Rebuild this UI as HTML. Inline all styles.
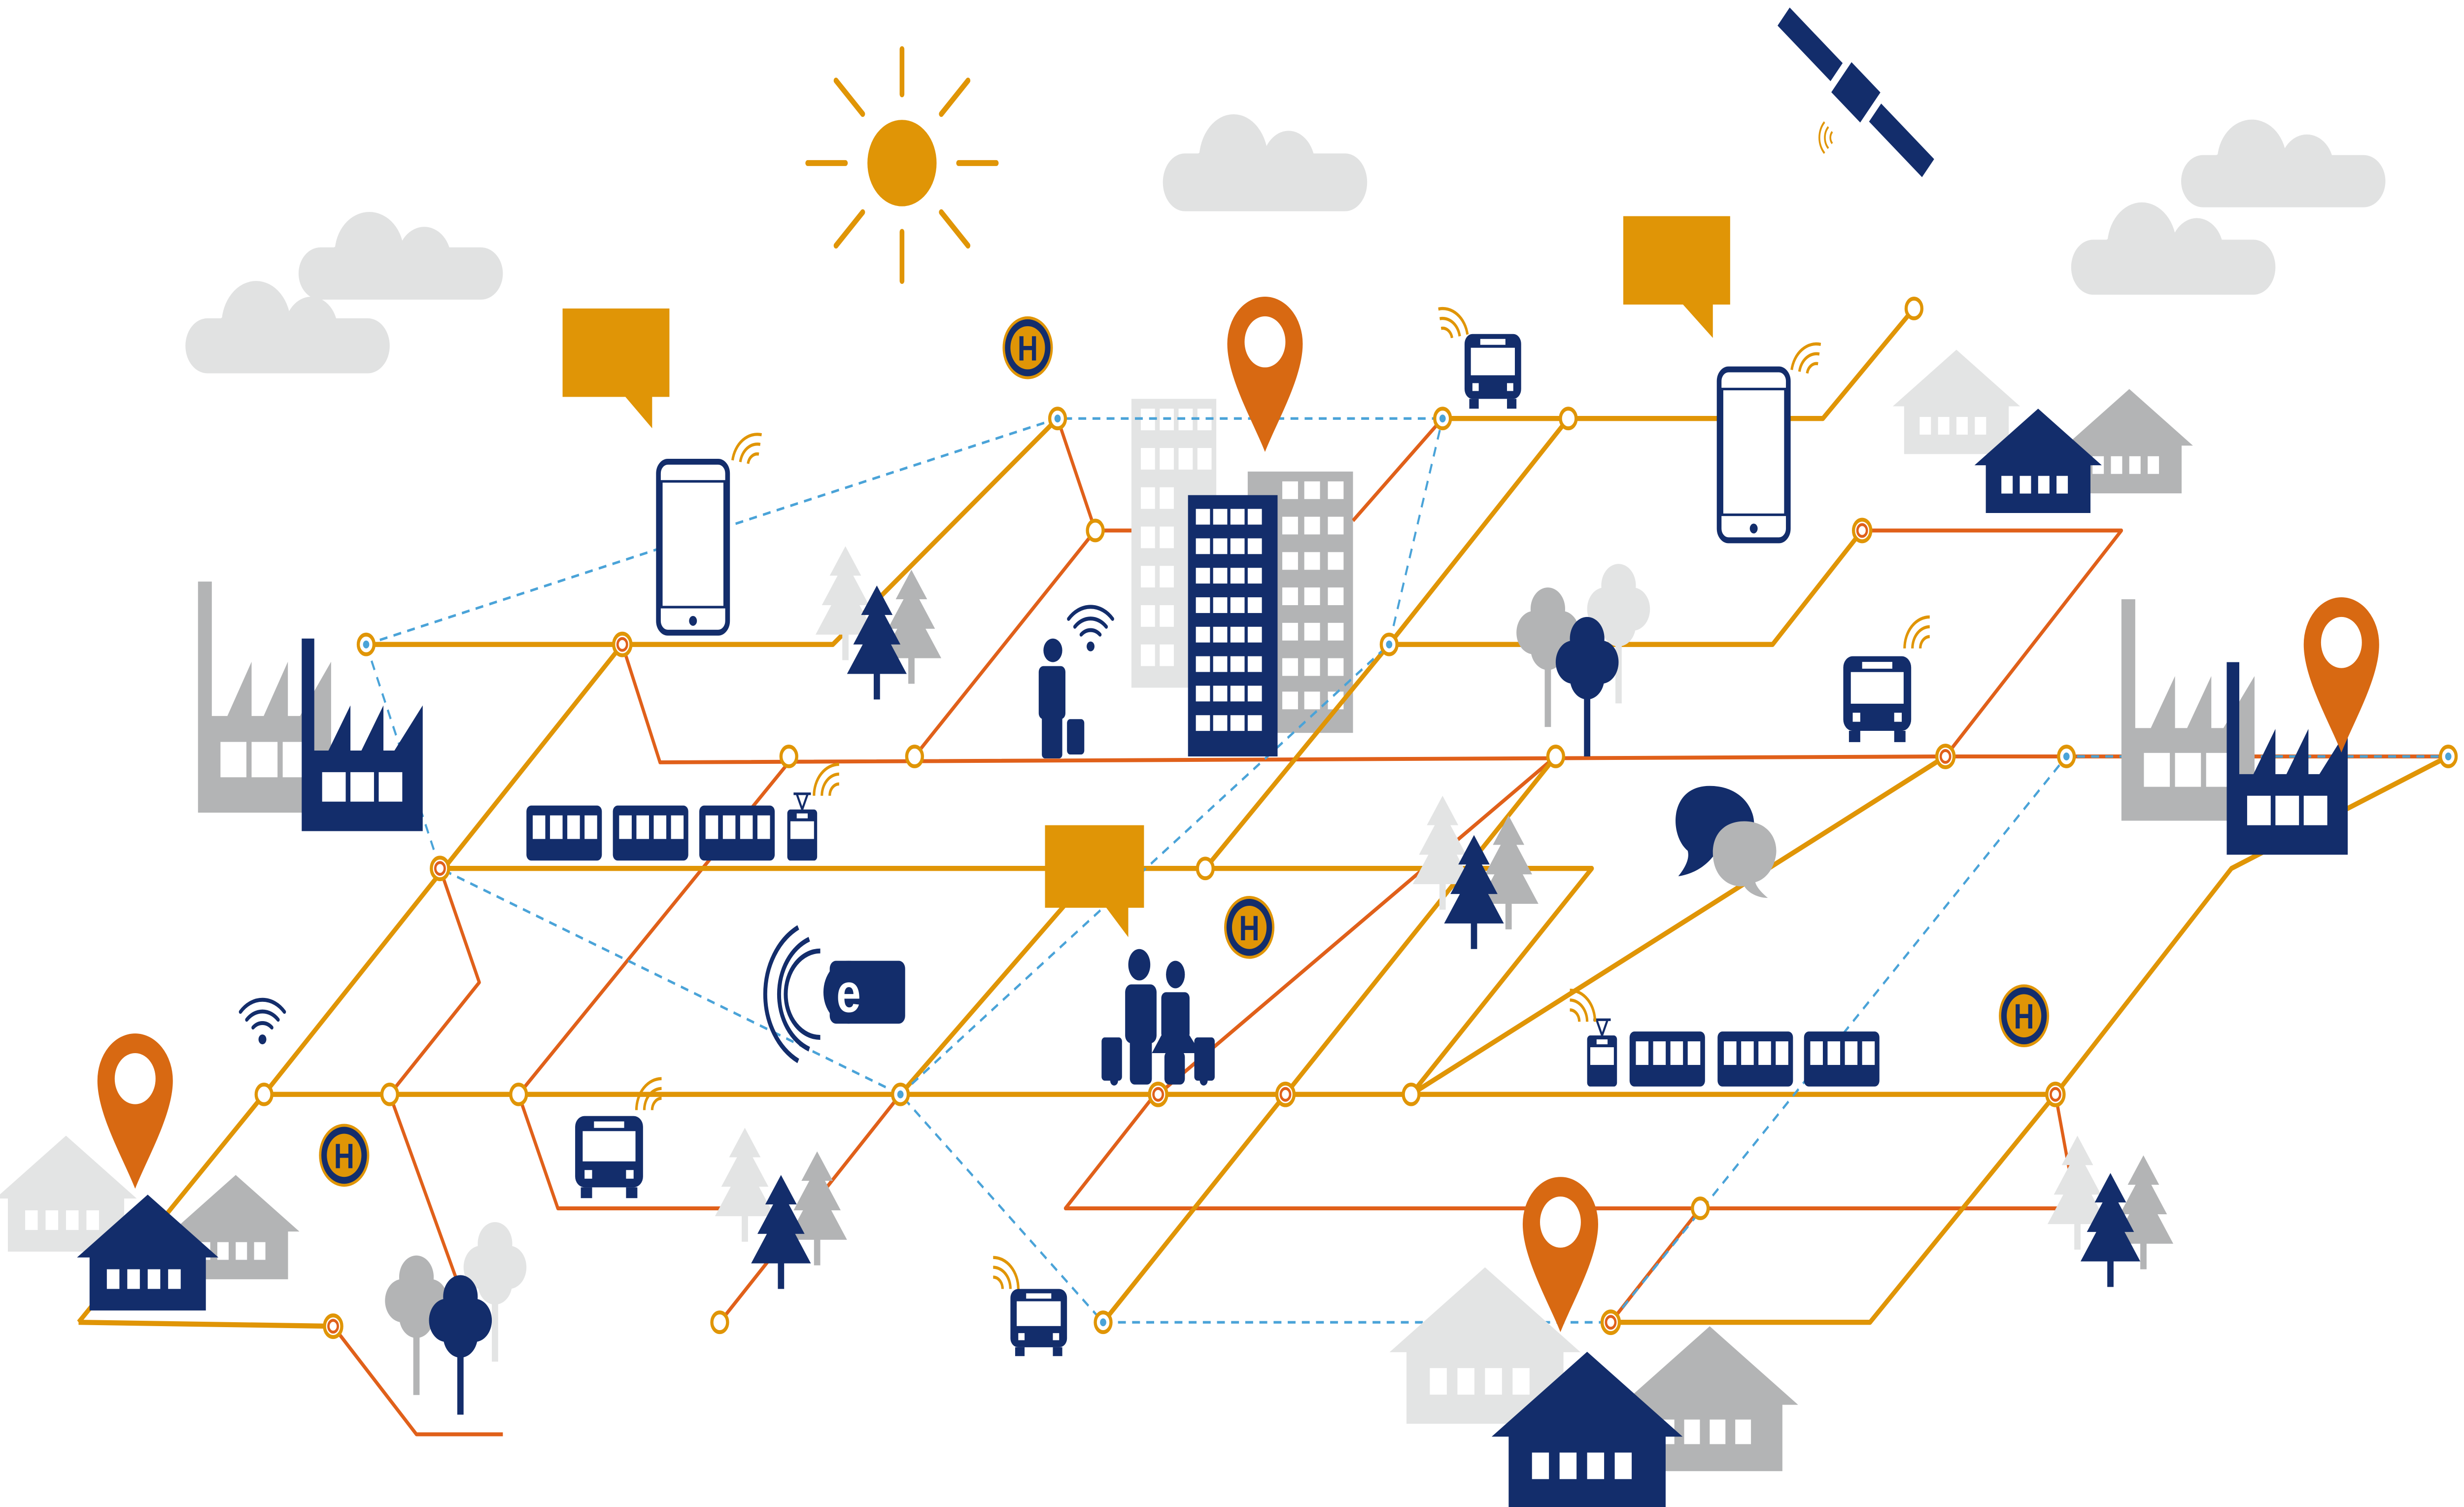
<!DOCTYPE html>
<html><head><meta charset="utf-8"><style>
html,body{margin:0;padding:0;background:#fff;width:100%;height:100%;overflow:hidden}
svg{display:block;width:100vw;height:100vh}
</style></head><body>
<svg viewBox="0 0 1568 767" preserveAspectRatio="none" xmlns="http://www.w3.org/2000/svg">
<defs>
<g id="fac"><path d="M0 0H8V57H17L31 34V57H38L52 34V57H59L77 34V98H0Z"/><g fill="#fff"><rect x="13" y="68" width="15" height="15"/><rect x="31" y="68" width="15" height="15"/><rect x="49" y="68" width="15" height="15"/></g></g>
<g id="house"><path d="M-45 32L0 0L45 32H37V59H-37V32Z"/><g fill="#fff"><rect x="-26" y="38" width="8" height="10"/><rect x="-13" y="38" width="8" height="10"/><rect x="0" y="38" width="8" height="10"/><rect x="13" y="38" width="8" height="10"/></g></g>
<g id="pin"><path d="M0 0C-8 -16 -24 -38 -24 -55A24 24 0 1 1 24 -55C24 -38 8 -16 0 0Z" fill="#d86912"/><circle cx="0" cy="-56" r="13" fill="#fff"/></g>
<path id="con" d="M0 0L-10 15H-5L-15 30H-9L-19 45H-2V58H2V45H19L9 30H15L5 15H10Z"/>
<g id="dec"><circle cx="0" cy="0" r="11"/><circle cx="-9" cy="12" r="11"/><circle cx="9" cy="12" r="11"/><circle cx="0" cy="20" r="11"/><rect x="-2" y="20" width="4" height="40"/></g>
<g id="bus"><rect x="0" y="0" width="36" height="33" rx="5" fill="#132d6b"/><rect x="4" y="7" width="28" height="14" fill="#fff"/><rect x="10" y="2.5" width="16" height="3" fill="#fff"/><rect x="5" y="25" width="4" height="4" fill="#fff"/><rect x="27" y="25" width="4" height="4" fill="#fff"/><rect x="3" y="33" width="6" height="5" fill="#132d6b"/><rect x="27" y="33" width="6" height="5" fill="#132d6b"/></g>
<g id="car"><rect x="0" y="0" width="48" height="28" rx="3" fill="#132d6b"/><g fill="#fff"><rect x="4" y="5" width="8" height="12"/><rect x="15" y="5" width="8" height="12"/><rect x="26" y="5" width="8" height="12"/><rect x="37" y="5" width="8" height="12"/></g></g>
<g id="tram"><rect x="0" y="6" width="19" height="26" rx="2" fill="#132d6b"/><rect x="2" y="12" width="15" height="9" fill="#fff"/><rect x="6" y="8" width="7" height="2.5" fill="#fff"/><path d="M9.5 6L6 -2M9.5 6L13 -2M4 -2H15" stroke="#132d6b" stroke-width="1.3" fill="none"/></g>
<g id="wifiO" fill="none" stroke="#e09506" stroke-width="1.6"><path d="M0 0A6 6 0 0 1 6 -6"/><path d="M-5 0A11 11 0 0 1 6 -11"/><path d="M-10 0A16 16 0 0 1 6 -16"/></g>
<g id="cloud"><rect x="0" y="22" width="130" height="28" rx="14"/><circle cx="45" cy="25" r="22"/><circle cx="80" cy="28" r="17"/><circle cx="30" cy="35" r="15"/></g>
<g id="H"><circle r="16" fill="#e09506"/><circle r="14.5" fill="#132d6b"/><circle r="11" fill="#e09506"/><text x="0" y="6.5" text-anchor="middle" font-family="Liberation Sans, sans-serif" font-weight="bold" font-size="18" fill="#132d6b">H</text></g>
<g id="node"><circle r="5" fill="#fff" stroke="#e09506" stroke-width="2"/></g>
<g id="nodeb"><circle r="5" fill="#fff" stroke="#e09506" stroke-width="2"/><circle r="2" fill="#4aa3d8"/></g>
<g id="noder"><circle r="5.5" fill="#fff" stroke="#e09506" stroke-width="2"/><circle r="3" fill="#fff" stroke="#e0601a" stroke-width="1.5"/></g>
</defs>

<g fill="#e1e2e2">
<use href="#cloud" transform="translate(118,140)"/>
<use href="#cloud" transform="translate(190,105) scale(1,0.95)"/>
<use href="#cloud" transform="translate(740,55) scale(1,1.05)"/>
<use href="#cloud" transform="translate(1388,58) scale(1,0.95)"/>
<use href="#cloud" transform="translate(1318,100)"/>
</g>

<g stroke="#e09506" stroke-width="3" stroke-linecap="round">
<line x1="574" y1="25" x2="574" y2="48"/><line x1="574" y1="118" x2="574" y2="143"/>
<line x1="514" y1="83" x2="538" y2="83"/><line x1="610" y1="83" x2="634" y2="83"/>
<line x1="532" y1="41" x2="549" y2="58"/><line x1="599" y1="108" x2="616" y2="125"/>
<line x1="616" y1="41" x2="599" y2="58"/><line x1="549" y1="108" x2="532" y2="125"/>
</g>
<circle cx="574" cy="83" r="22" fill="#e09506"/>

<g fill="#132d6b" transform="translate(1181,47) rotate(40)">
<rect x="-60" y="-6" width="44" height="12"/><rect x="16" y="-6" width="44" height="12"/><rect x="-12" y="-10" width="24" height="20"/></g>
<g transform="translate(1166,73) rotate(-45)"><use href="#wifiO" transform="scale(0.7)"/></g>

<rect x="720" y="203" width="54" height="147" fill="#e3e4e4"/>
<g fill="#fff"><rect x="726" y="208" width="9" height="11"/><rect x="738" y="208" width="9" height="11"/><rect x="750" y="208" width="9" height="11"/><rect x="762" y="208" width="9" height="11"/>
<rect x="726" y="228" width="9" height="11"/><rect x="738" y="228" width="9" height="11"/><rect x="750" y="228" width="9" height="11"/><rect x="762" y="228" width="9" height="11"/>
<rect x="726" y="248" width="9" height="11"/><rect x="738" y="248" width="9" height="11"/><rect x="726" y="268" width="9" height="11"/><rect x="738" y="268" width="9" height="11"/>
<rect x="726" y="288" width="9" height="11"/><rect x="738" y="288" width="9" height="11"/><rect x="726" y="308" width="9" height="11"/><rect x="738" y="308" width="9" height="11"/><rect x="726" y="328" width="9" height="11"/><rect x="738" y="328" width="9" height="11"/></g>
<rect x="794" y="240" width="67" height="133" fill="#b3b4b5"/>
<g fill="#fff">
<rect x="816" y="245" width="10" height="9"/><rect x="830" y="245" width="10" height="9"/><rect x="845" y="245" width="10" height="9"/>
<rect x="816" y="263" width="10" height="9"/><rect x="830" y="263" width="10" height="9"/><rect x="845" y="263" width="10" height="9"/>
<rect x="816" y="281" width="10" height="9"/><rect x="830" y="281" width="10" height="9"/><rect x="845" y="281" width="10" height="9"/>
<rect x="816" y="299" width="10" height="9"/><rect x="830" y="299" width="10" height="9"/><rect x="845" y="299" width="10" height="9"/>
<rect x="816" y="317" width="10" height="9"/><rect x="830" y="317" width="10" height="9"/><rect x="845" y="317" width="10" height="9"/>
<rect x="816" y="335" width="10" height="9"/><rect x="830" y="335" width="10" height="9"/><rect x="845" y="335" width="10" height="9"/>
<rect x="816" y="352" width="10" height="9"/><rect x="830" y="352" width="10" height="9"/><rect x="845" y="352" width="10" height="9"/></g>

<g fill="none" stroke="#e0601a" stroke-width="2" stroke-linejoin="round">
<polyline points="396,328 420,388 1238,385 1560,385"/>
<polyline points="582,385 697,270 673,213"/>
<line x1="697" y1="270" x2="720" y2="270"/>
<polyline points="1238,385 1350,270 1185,270"/>
<polyline points="280,442 305,500 248,557 290,650"/>
<polyline points="212,675 265,730 320,730"/>
<polyline points="505,385 330,557 355,615 460,615"/>
<polyline points="1308,557 1316,592 1322,615 678,615 735,557"/>
<line x1="458" y1="673" x2="573" y2="557"/>
<line x1="737" y1="557" x2="990" y2="385"/>
<line x1="1025" y1="673" x2="1082" y2="615"/>
<polyline points="861,265 918,213"/>
</g>
<g fill="none" stroke="#e09506" stroke-width="2.6" stroke-linejoin="round">
<polyline points="233,328 396,328 530,328 673,213"/>
<polyline points="918,213 998,213 1160,213 1218,157"/>
<polyline points="998,213 884,328 1128,328 1185,270"/>
<polyline points="884,328 767,442"/>
<polyline points="280,442 1013,442 898,557"/>
<polyline points="50,673 168,557 396,328"/>
<polyline points="168,557 1308,557 1420,442 1558,385"/>
<polyline points="1308,557 1190,673 1025,673"/>
<polyline points="573,557 700,440"/>
<polyline points="702,673 818,557 990,385"/>
<polyline points="898,557 1238,385"/>
<polyline points="50,673 212,675"/>
</g>
<g fill="none" stroke="#4aa3d8" stroke-width="1.3" stroke-dasharray="5 4">
<polyline points="233,328 673,213 918,213"/>
<polyline points="233,328 280,442 573,557 702,673 1025,673 1315,385 1558,385"/>
<polyline points="573,557 884,328 918,213"/>
</g>

<rect x="756" y="252" width="57" height="133" fill="#132d6b"/>
<g fill="#fff">
<rect x="761" y="259" width="9" height="8"/><rect x="772" y="259" width="9" height="8"/><rect x="783" y="259" width="9" height="8"/><rect x="794" y="259" width="9" height="8"/>
<rect x="761" y="274" width="9" height="8"/><rect x="772" y="274" width="9" height="8"/><rect x="783" y="274" width="9" height="8"/><rect x="794" y="274" width="9" height="8"/>
<rect x="761" y="289" width="9" height="8"/><rect x="772" y="289" width="9" height="8"/><rect x="783" y="289" width="9" height="8"/><rect x="794" y="289" width="9" height="8"/>
<rect x="761" y="304" width="9" height="8"/><rect x="772" y="304" width="9" height="8"/><rect x="783" y="304" width="9" height="8"/><rect x="794" y="304" width="9" height="8"/>
<rect x="761" y="319" width="9" height="8"/><rect x="772" y="319" width="9" height="8"/><rect x="783" y="319" width="9" height="8"/><rect x="794" y="319" width="9" height="8"/>
<rect x="761" y="334" width="9" height="8"/><rect x="772" y="334" width="9" height="8"/><rect x="783" y="334" width="9" height="8"/><rect x="794" y="334" width="9" height="8"/>
<rect x="761" y="349" width="9" height="8"/><rect x="772" y="349" width="9" height="8"/><rect x="783" y="349" width="9" height="8"/><rect x="794" y="349" width="9" height="8"/>
<rect x="761" y="364" width="9" height="8"/><rect x="772" y="364" width="9" height="8"/><rect x="783" y="364" width="9" height="8"/><rect x="794" y="364" width="9" height="8"/></g>

<use href="#nodeb" x="233" y="328"/><use href="#noder" x="396" y="328"/><use href="#nodeb" x="673" y="213"/>
<use href="#nodeb" x="918" y="213"/><use href="#node" x="998" y="213"/><use href="#node" x="1218" y="157"/>
<use href="#nodeb" x="884" y="328"/><use href="#noder" x="1185" y="270"/><use href="#node" x="697" y="270"/>
<use href="#node" x="502" y="385"/><use href="#node" x="582" y="385"/><use href="#node" x="990" y="385"/><use href="#noder" x="1238" y="385"/><use href="#nodeb" x="1315" y="385"/><use href="#nodeb" x="1558" y="385"/>
<use href="#noder" x="280" y="442"/><use href="#node" x="767" y="442"/>
<use href="#node" x="168" y="557"/><use href="#node" x="248" y="557"/><use href="#node" x="330" y="557"/><use href="#nodeb" x="573" y="557"/><use href="#noder" x="737" y="557"/><use href="#noder" x="818" y="557"/><use href="#node" x="898" y="557"/><use href="#noder" x="1308" y="557"/>
<use href="#node" x="1082" y="615"/><use href="#noder" x="212" y="675"/><use href="#node" x="458" y="673"/><use href="#nodeb" x="702" y="673"/><use href="#noder" x="1025" y="673"/>

<use href="#fac" fill="#b3b4b5" transform="translate(126,296) scale(1.1,1.2)"/>
<use href="#fac" fill="#132d6b" transform="translate(192,325)"/>
<use href="#fac" fill="#b3b4b5" transform="translate(1350,305) scale(1.1,1.15)"/>
<use href="#fac" fill="#132d6b" transform="translate(1417,337)"/>

<use href="#house" fill="#e3e4e4" transform="translate(42,578)"/>
<use href="#house" fill="#b3b4b5" transform="translate(150,598) scale(0.9)"/>
<use href="#house" fill="#132d6b" transform="translate(94,608)"/>
<use href="#house" fill="#e3e4e4" transform="translate(1245,178) scale(0.9)"/>
<use href="#house" fill="#b3b4b5" transform="translate(1355,198) scale(0.9)"/>
<use href="#house" fill="#132d6b" transform="translate(1297,208) scale(0.9)"/>
<use href="#house" fill="#e3e4e4" transform="translate(945,645) scale(1.35)"/>
<use href="#house" fill="#b3b4b5" transform="translate(1088,675) scale(1.25)"/>
<use href="#house" fill="#132d6b" transform="translate(1010,688) scale(1.35)"/>

<use href="#con" fill="#e3e4e4" transform="translate(538,278)"/><use href="#con" fill="#b3b4b5" transform="translate(580,290)"/><use href="#con" fill="#132d6b" transform="translate(558,298)"/>
<use href="#con" fill="#e3e4e4" transform="translate(918,405)"/><use href="#con" fill="#b3b4b5" transform="translate(960,415)"/><use href="#con" fill="#132d6b" transform="translate(938,425)"/>
<use href="#con" fill="#e3e4e4" transform="translate(474,574)"/><use href="#con" fill="#b3b4b5" transform="translate(520,586)"/><use href="#con" fill="#132d6b" transform="translate(497,598)"/>
<use href="#con" fill="#e3e4e4" transform="translate(1322,578)"/><use href="#con" fill="#b3b4b5" transform="translate(1364,588)"/><use href="#con" fill="#132d6b" transform="translate(1343,597)"/>
<use href="#dec" fill="#b3b4b5" transform="translate(985,310)"/><use href="#dec" fill="#e3e4e4" transform="translate(1030,298)"/><use href="#dec" fill="#132d6b" transform="translate(1010,325)"/>
<use href="#dec" fill="#b3b4b5" transform="translate(265,650)"/><use href="#dec" fill="#e3e4e4" transform="translate(315,633)"/><use href="#dec" fill="#132d6b" transform="translate(293,660)"/>

<use href="#pin" transform="translate(86,605)"/><use href="#pin" transform="translate(805,230)"/>
<use href="#pin" transform="translate(1490,383)"/><use href="#pin" transform="translate(993,678)"/>

<rect x="419" y="235" width="44" height="87" rx="6" fill="#fff" stroke="#132d6b" stroke-width="3"/><rect x="421" y="245" width="40" height="64" fill="#fff" stroke="#132d6b" stroke-width="1.3"/><circle cx="441" cy="316" r="2.5" fill="#132d6b"/>
<use href="#wifiO" transform="translate(476,236) rotate(10)"/>
<rect x="1094" y="188" width="44" height="87" rx="6" fill="#fff" stroke="#132d6b" stroke-width="3"/><rect x="1096" y="198" width="40" height="64" fill="#fff" stroke="#132d6b" stroke-width="1.3"/><circle cx="1116" cy="269" r="2.5" fill="#132d6b"/>
<use href="#wifiO" transform="translate(1150,190) rotate(10)"/>

<path d="M358 157H426V202H415V218L398 202H358Z" fill="#e09506"/>
<path d="M1033 110H1101V155H1090V172L1071 155H1033Z" fill="#e09506"/>
<path d="M665 420H728V462H718V477L704 462H665Z" fill="#e09506"/>

<use href="#bus" transform="translate(932,170)"/><use href="#wifiO" transform="translate(924,172) scale(-1,1) rotate(10)"/>
<use href="#bus" transform="translate(1173,334) scale(1.2,1.15)"/><use href="#wifiO" transform="translate(1222,330)"/>
<use href="#bus" transform="translate(366,568) scale(1.2,1.1)"/><use href="#wifiO" transform="translate(415,565)"/>
<use href="#bus" transform="translate(643,656) scale(1,0.9)"/><use href="#wifiO" transform="translate(638,656) scale(-1,1)"/>

<use href="#car" transform="translate(335,410)"/><use href="#car" transform="translate(390,410)"/><use href="#car" transform="translate(445,410)"/><use href="#tram" transform="translate(501,406)"/><use href="#wifiO" transform="translate(528,405)"/>
<use href="#car" transform="translate(1037,525)"/><use href="#car" transform="translate(1093,525)"/><use href="#car" transform="translate(1148,525)"/><use href="#tram" transform="translate(1010,521)"/><use href="#wifiO" transform="translate(1005,520) scale(-1,1)"/>

<use href="#H" x="654" y="177"/><use href="#H" x="795" y="472"/><use href="#H" x="219" y="588"/><use href="#H" x="1288" y="517"/>

<path d="M1088 400C1108 400 1118 412 1116 422C1112 435 1100 438 1090 436C1084 442 1076 445 1068 446C1074 440 1075 436 1074 433C1062 425 1062 400 1088 400Z" fill="#132d6b"/>
<path d="M1110 418C1126 418 1132 428 1130 436C1128 444 1122 448 1117 449C1118 452 1122 455 1125 457C1118 457 1112 454 1110 451C1100 452 1090 446 1090 434C1090 424 1098 418 1110 418Z" fill="#b3b4b5"/>

<g fill="none" stroke="#132d6b" stroke-width="2.5"><path d="M522 484A22 22 0 0 0 522 528"/><path d="M515 478A30 30 0 0 0 515 534"/><path d="M508 472A38 38 0 0 0 508 540"/></g>
<rect x="528" y="489" width="48" height="32" rx="4" fill="#132d6b"/><circle cx="540" cy="505" r="16" fill="#132d6b"/>
<text x="540" y="515" text-anchor="middle" font-family="Liberation Sans, sans-serif" font-weight="bold" font-size="28" fill="#fff">e</text>

<g fill="none" stroke="#132d6b" stroke-width="2" stroke-linecap="round"><path d="M161 523A9 9 0 0 1 173 523"/><path d="M157 519A14 14 0 0 1 177 519"/><path d="M153 515A19 19 0 0 1 181 515"/></g><circle cx="167" cy="529" r="2.5" fill="#132d6b"/>
<g fill="none" stroke="#132d6b" stroke-width="2" stroke-linecap="round"><path d="M688 323A9 9 0 0 1 700 323"/><path d="M684 319A14 14 0 0 1 704 319"/><path d="M680 315A19 19 0 0 1 708 315"/></g><circle cx="694" cy="329" r="2.5" fill="#132d6b"/>

<g fill="#132d6b"><circle cx="670" cy="331" r="6"/><rect x="661" y="339" width="17" height="27" rx="3"/><rect x="663" y="362" width="13" height="24" rx="2"/><rect x="679" y="366" width="11" height="18" rx="2"/></g>

<g fill="#132d6b">
<ellipse cx="725" cy="491" rx="7" ry="8"/><rect x="716" y="501" width="20" height="30" rx="4"/><rect x="719" y="528" width="14" height="24" rx="3"/>
<rect x="701" y="528" width="13" height="22" rx="2"/><circle cx="709" cy="550" r="2.5"/>
<ellipse cx="748" cy="496" rx="6" ry="7"/><rect x="739" y="505" width="18" height="24" rx="3"/><path d="M739 527L733 536H764L757 527Z"/><rect x="741" y="535" width="13" height="17" rx="3"/>
<rect x="760" y="528" width="13" height="22" rx="2"/><circle cx="766" cy="550" r="2.5"/>
</g>
</svg>
</body></html>
